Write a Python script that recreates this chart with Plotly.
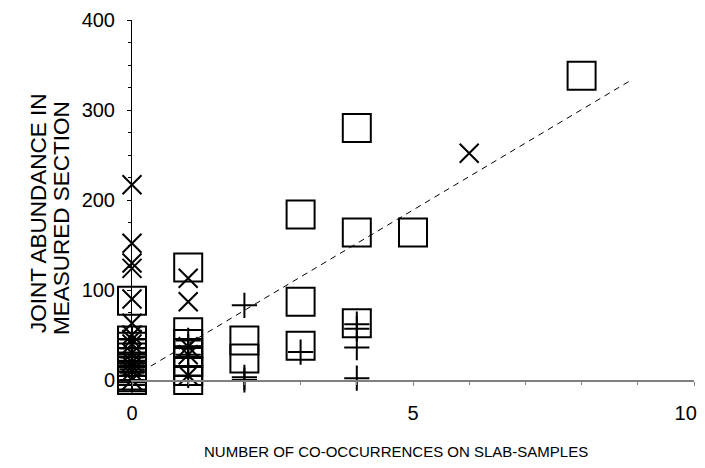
import plotly.graph_objects as go

# Squares series
sq_x = [0, 0, 0, 0, 0, 0, 0, 0, 0, 0, 0, 0,
        1, 1, 1, 1, 1, 1, 1,
        2, 2,
        3, 3, 3,
        4, 4, 4,
        5, 8]
sq_y = [0, 3, 5, 10, 13, 15, 20, 25, 30, 37, 44, 88,
        0, 10, 20, 30, 40, 53, 125,
        44, 24,
        184, 87, 38,
        280, 164, 63,
        164, 338]

# Cross (x) series
xm_x = [0, 0, 0, 0, 0, 0, 0, 0, 0, 0, 0, 0, 0, 0,
        1, 1, 1, 1, 1,
        6]
xm_y = [217, 152, 130, 124, 90, 63, 50, 45, 40, 30, 20, 15, 10, 0,
        113, 87, 37, 28, 5,
        252]

# Plus series
pl_x = [0, 0, 0, 0, 0, 0, 0, 0,
        1, 1, 1, 1, 1,
        2, 2, 2,
        3,
        4, 4, 4, 4]
pl_y = [45, 35, 25, 18, 12, 8, 5, 0,
        44, 37, 28, 15, 5,
        83, 3, 0,
        31,
        62, 57, 36, 2]

# Trend line
trend_x = [0, 8.85]
trend_y = [3, 332]

x_ticks = [0, 5, 10]
x_tick_labels = ["0", "5", "10\u00a0\u00a0\u00a0"]
y_ticks = [0, 100, 200, 300, 400]

y_title_1 = "JOINT ABUNDANCE IN"
y_title_2 = "MEASURED SECTION"
x_title = "NUMBER OF CO-OCCURRENCES ON SLAB-SAMPLES"

fig = go.Figure()
fig.add_trace(go.Scatter(
    x=trend_x, y=trend_y, mode="lines",
    line=dict(color="black", width=1, dash="6px,5px"),
    hoverinfo="skip", showlegend=False, cliponaxis=False))
fig.add_trace(go.Scatter(
    x=sq_x, y=sq_y, mode="markers",
    marker=dict(symbol="square-open", size=28, color="black",
                line=dict(color="black", width=2)),
    showlegend=False, cliponaxis=False))
fig.add_trace(go.Scatter(
    x=xm_x, y=xm_y, mode="markers",
    marker=dict(symbol="x-thin", size=19, color="black",
                line=dict(color="black", width=2)),
    showlegend=False, cliponaxis=False))
fig.add_trace(go.Scatter(
    x=pl_x, y=pl_y, mode="markers",
    marker=dict(symbol="cross-thin", size=18, color="black",
                line=dict(color="black", width=2)),
    showlegend=False, cliponaxis=False))

fig.update_layout(
    width=697, height=452,
    margin=dict(l=124, r=11, t=12, b=80),
    paper_bgcolor="white", plot_bgcolor="white",
    font=dict(family="Liberation Sans, Arial, sans-serif", size=20, color="black"),
    showlegend=False,
)
fig.update_xaxes(
    range=[0, 10], tickvals=x_ticks, ticktext=x_tick_labels,
    automargin=False,
    showgrid=False, zeroline=False, showline=True, linecolor="#808080", linewidth=2,
    ticks="outside", ticklen=4, tickcolor="#808080", tickwidth=1,
    minor=dict(dtick=1, ticks="outside", ticklen=3, tickcolor="#808080"),
    ticklabelstandoff=10, ticklabeloverflow="allow",
    tickfont=dict(family="Liberation Sans, Arial", size=20),
)
fig.update_yaxes(
    range=[0, 400], tickvals=y_ticks, ticktext=[str(v) for v in y_ticks],
    automargin=False,
    showgrid=False, zeroline=False, showline=True, linecolor="black", linewidth=1,
    ticks="outside", ticklen=4, tickcolor="black", tickwidth=1,
    minor=dict(dtick=25, ticks="outside", ticklen=3, tickcolor="black"),
    ticklabelstandoff=8, ticklabeloverflow="allow",
    tickfont=dict(family="Liberation Sans, Arial", size=20),
)

fig.add_annotation(text=y_title_1, xref="paper", yref="paper",
                   x=(38 - 132) / 562, y=(380 - 213) / 360, textangle=-90,
                   showarrow=False, xanchor="center", yanchor="middle",
                   font=dict(family="Liberation Sans, Arial", size=22.5))
fig.add_annotation(text=y_title_2, xref="paper", yref="paper",
                   x=(61 - 132) / 562, y=(380 - 218) / 360, textangle=-90,
                   showarrow=False, xanchor="center", yanchor="middle",
                   font=dict(family="Liberation Sans, Arial", size=22.5))
fig.add_annotation(text=x_title, xref="paper", yref="paper",
                   x=(396 - 132) / 562, y=(380 - 451) / 360,
                   showarrow=False, xanchor="center", yanchor="middle",
                   font=dict(family="Liberation Sans, Arial", size=15))

fig.write_html("out.html")
